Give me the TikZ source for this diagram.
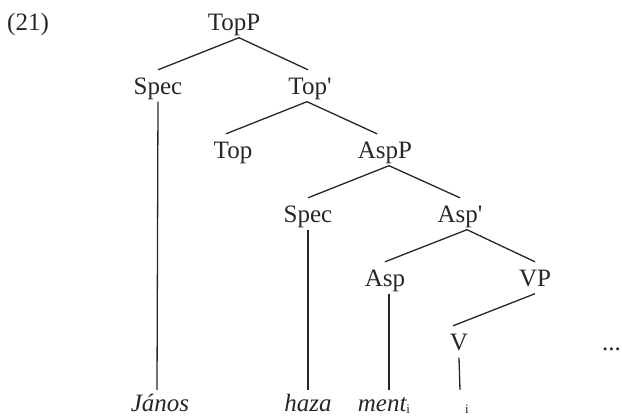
\documentclass[tikz,border=0pt]{standalone}
\usepackage{fontspec}
\setmainfont{Liberation Serif}
\newfontfamily\treeserif{Liberation Serif}
\newcommand\subidx{\raisebox{-2pt}{\fontsize{13}{13}\selectfont\upshape i}}
\begin{document}
\begin{tikzpicture}[x=1pt,y=-1pt,
  lab/.style={font=\treeserif\fontsize{25}{30}\selectfont, text=black!85, anchor=base,
    inner xsep=0pt, inner ysep=7.5pt, text height=16.5pt, text depth=0pt},
  leaf/.style={lab, font=\treeserif\fontsize{25}{30}\selectfont\itshape, text height=13.5pt},
  br/.style={line width=1.3pt, draw=black!85}]
\useasboundingbox (0,0) rectangle (622,416);
\node[lab, anchor=base west] (n21) at (7,30) {(21)};
\node[lab] (TopP) at (234,30) {TopP};
\node[lab] (Spec1) at (158,94) {Spec};
\node[lab] (Top1) at (310,94) {Top'};
\node[lab] (Top) at (233,158) {Top};
\node[lab] (AspP) at (385,158) {AspP};
\node[lab] (Spec2) at (308,222) {Spec};
\node[lab] (Asp1) at (460,222) {Asp'};
\node[lab] (Asp) at (385,286) {Asp};
\node[lab] (VP) at (535,286) {VP};
\node[lab] (V) at (459,350) {V};
\node[lab, anchor=base west] (dots) at (602,350) {...};
\node[leaf] (Janos) at (160,411) {János};
\node[leaf] (haza) at (308,411) {haza};
\node[leaf] (ment) at (384,411) {ment\subidx};
\node[leaf] (tr) at (467,411) {\subidx};
\draw[br] ([xshift=5pt]TopP.south) -- (Spec1.north);
\draw[br] ([xshift=5pt]TopP.south) -- ([xshift=-2pt]Top1.north);
\draw[br] (Spec1.south) -- ([xshift=-3pt]Janos.north);
\draw[br] ([xshift=-3pt]Top1.south) -- ([xshift=-7pt]Top.north);
\draw[br] ([xshift=-3pt]Top1.south) -- ([xshift=-8pt]AspP.north);
\draw[br] ([xshift=4pt]AspP.south) -- (Spec2.north);
\draw[br] ([xshift=4pt]AspP.south) -- (Asp1.north);
\draw[br] (Spec2.south) -- (haza.north);
\draw[br] ([xshift=7pt]Asp1.south) -- (Asp.north);
\draw[br] ([xshift=7pt]Asp1.south) -- (VP.north);
\draw[br] ([xshift=4pt]Asp.south) -- ([xshift=5pt]ment.north);
\draw[br] (VP.south) -- ([xshift=-6pt]V.north);
\draw[br] (V.south) -- ([xshift=-7pt]tr.north);
\end{tikzpicture}
\end{document}
